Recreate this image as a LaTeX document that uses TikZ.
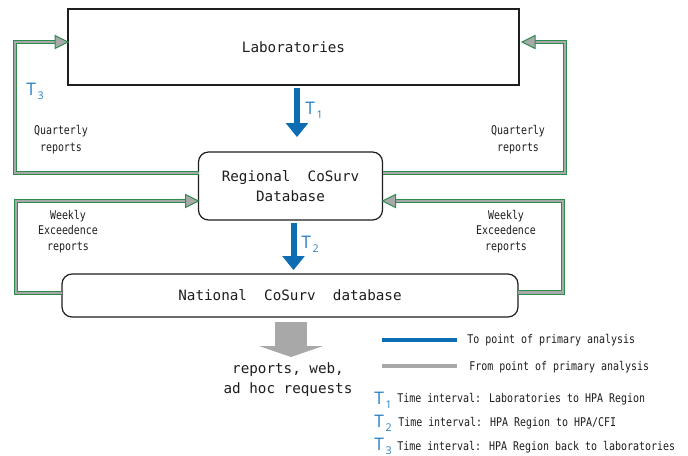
\documentclass[tikz,border=0pt]{standalone}
\usepackage{fontspec}
\usetikzlibrary{arrows.meta,calc}
\newfontfamily\boxfont{DejaVu Sans Mono}
\newfontfamily\smallfont[FakeStretch=0.83]{DejaVu Sans Mono}
\newfontfamily\tfont{Open Sans}
\definecolor{fbgreen}{HTML}{2E8B4E}
\definecolor{fbgray}{HTML}{A8A8A8}
\definecolor{tblue}{HTML}{0C6DB3}
\definecolor{tlabel}{HTML}{2A80C4}
\definecolor{ink}{HTML}{1E1E1E}
\newcommand\Tlab[1]{{\tfont\fontsize{13}{14}\selectfont T\raisebox{-0.45ex}{\fontsize{8}{9}\selectfont\,#1}}}
\begin{document}
\begin{tikzpicture}[x=0.75pt,y=-0.75pt,
  box/.style={draw=ink, line width=0.9pt, inner sep=0pt, outer sep=0pt,
    font=\boxfont\fontsize{10.7}{13}\selectfont, text=ink, align=center},
  rbox/.style={box, rounded corners=7.5pt},
  small/.style={font=\smallfont\fontsize{9}{12.75}\selectfont, text=ink, align=center, inner sep=0pt},
  smallw/.style={small, font=\smallfont\fontsize{9}{11.6}\selectfont},
  fbline/.style={draw=fbgray, line width=2.1pt, line join=miter,
    preaction={draw=fbgreen, line width=3.5pt, line join=miter}},
  fbhead/.style={fill=fbgray, draw=fbgreen, line width=0.75pt, line join=miter},
  tarrow/.style={draw=tblue, line width=4.5pt, -{Triangle[width=17pt,length=10.5pt,line width=0pt]}},
  bigarrow/.style={draw=fbgray, line width=24pt, -{Triangle[width=48pt,length=8.25pt,line width=0pt]}},
  tlab/.style={text=tlabel, inner sep=0pt},
  legline/.style={line width=3.4pt}
]
\fill[white] (0,0) rectangle (688,455);
\useasboundingbox (0,0) rectangle (688,455);

% boxes
\node[box, minimum width=338.25pt, minimum height=57pt] (lab) at (293.5,47) {Laboratories};
\node[rbox, minimum width=138pt, minimum height=51pt] (reg) at (290.5,186) {Regional~~CoSurv\\[2pt]Database};
\node[rbox, minimum width=342pt, minimum height=32.25pt] (nat) at (290,295.5) {National~~CoSurv~~database};

% blue arrows
\draw[tarrow] ($(lab.south)+(3.5,3)$) -- ($(lab.south |- reg.north)+(3.5,-15)$);
\draw[tarrow] ($(reg.south)+(3,3)$) -- ($(reg.south |- nat.north)+(3,-4)$);
\node[tlab] (t1) at (314,110) {\Tlab{1}};
\node[tlab] (t2) at (310,244) {\Tlab{2}};

% feedback connectors
\coordinate (c1) at (15,42);
\coordinate (h1) at (lab.west |- c1);
\draw[fbline] ($(reg.west)+(0,-13)$) -| (c1) -- ($(h1)+(-12,0)$);
\filldraw[fbhead] (h1) -- ++(-13,-6.5) -- ++(0,13) -- cycle;

\coordinate (c2) at (565,42);
\coordinate (h2) at ($(lab.east |- c2)+(3,0)$);
\draw[fbline] ($(reg.east)+(0,-13)$) -| (c2) -- ($(h2)+(12,0)$);
\filldraw[fbhead] (h2) -- ++(13,-6.5) -- ++(0,13) -- cycle;

\coordinate (c3) at (16,201);
\coordinate (h3) at (reg.west |- c3);
\draw[fbline] ($(nat.west)+(0,-2.5)$) -| (c3) -- ($(h3)+(-12,0)$);
\filldraw[fbhead] (h3) -- ++(-13,-6.5) -- ++(0,13) -- cycle;

\coordinate (c4) at (563,201);
\coordinate (h4) at (reg.east |- c4);
\draw[fbline] ($(nat.east)+(0,-3)$) -| (c4) -- ($(h4)+(12,0)$);
\filldraw[fbhead] (h4) -- ++(13,-6.5) -- ++(0,13) -- cycle;

\node[tlab] (t3) at (35,91) {\Tlab{3}};
\node[small] (q1) at (61,139.5) {Quarterly\\reports};
\node[small] (q2) at (518,139.5) {Quarterly\\reports};
\node[smallw] (w1) at (68,231.5) {Weekly\\Exceedence\\reports};
\node[smallw] (w2) at (506,231.5) {Weekly\\Exceedence\\reports};

% output
\draw[bigarrow] ($(nat.south)+(1,5)$) -- ($(nat.south)+(1,40)$);
\node[font=\boxfont\fontsize{10.7}{15}\selectfont, text=ink, align=center, inner sep=0pt] (out) at (288,380) {reports, web,\\ad hoc requests};

% legend
\coordinate (la) at (382,340);
\coordinate (lb) at (457,340);
\coordinate (lc) at (382,366);
\coordinate (ld) at (457,366);
\draw[legline, draw=tblue] (la) -- (lb);
\draw[legline, draw=fbgray] (lc) -- (ld);
\node[small, anchor=west] (lt1) at (467,340) {To point of primary analysis};
\node[small, anchor=west] (lt2) at (469,367) {From point of primary analysis};
\node[tlab] (lT1) at (383,400) {\Tlab{1}};
\node[tlab] (lT2) at (383,423) {\Tlab{2}};
\node[tlab] (lT3) at (383,446) {\Tlab{3}};
\node[small, anchor=west] (lt3) at (397,399) {Time interval: Laboratories to HPA Region};
\node[small, anchor=west] (lt4) at (398,423) {Time interval: HPA Region to HPA/CFI};
\node[small, anchor=west] (lt5) at (397,447) {Time interval: HPA Region back to laboratories};
\end{tikzpicture}
\end{document}
